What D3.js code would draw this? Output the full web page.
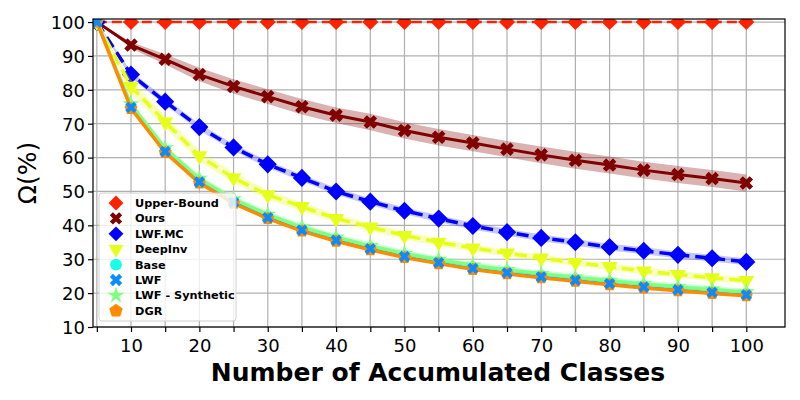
<!DOCTYPE html>
<html>
<head>
<meta charset="utf-8">
<script src="https://cdn.jsdelivr.net/npm/d3@7"></script>
<style>
  body { margin: 0; background: #fff; }
  text { font-family: "DejaVu Sans", sans-serif; }
</style>
</head>
<body>
<div id="chart"></div>
<script>
// data
var classes = [5, 10, 15, 20, 25, 30, 35, 40, 45, 50, 55, 60, 65, 70, 75, 80, 85, 90, 95, 100];

var upperBound = [100, 100, 100, 100, 100, 100, 100, 100, 100, 100, 100, 100, 100, 100, 100, 100, 100, 100, 100, 100];
var ours       = [100, 93.2, 89, 84.5, 81, 78, 75, 72.5, 70.5, 68, 66, 64.3, 62.5, 60.8, 59.2, 57.8, 56.3, 55, 53.8, 52.5];
var oursStd    = [0, 0.9, 1.5, 2, 2.1, 2.2, 2.3, 2.3, 2.4, 2.4, 2.4, 2.4, 2.4, 2.5, 2.5, 2.5, 2.5, 2.5, 2.5, 2.5];
var lwfMC      = [100, 84.5, 76.5, 69, 63, 58, 54, 50, 47, 44.3, 42, 39.8, 38, 36.3, 35, 33.6, 32.5, 31.3, 30.3, 29.2];
var lwfMCStd   = [0, 1, 1, 1, 1, 1, 1, 1, 1, 1, 1, 1, 1, 1, 1, 1, 1, 1, 1, 1];
var deepInv    = [100, 81, 70.5, 60.5, 54, 49, 45.5, 42, 39.5, 37, 35, 33.3, 31.8, 30.3, 29, 27.8, 26.5, 25.5, 24.5, 23.7];
var deepInvStd = [0, 2, 1.8, 1.6, 1.5, 1.4, 1.3, 1.2, 1.2, 1.1, 1.1, 1, 1, 1, 1, 1, 1, 1, 1, 1];
var base       = [100, 75.3, 62.3, 53.3, 47.3, 42.8, 39.1, 36.1, 33.6, 31.3, 29.5, 27.8, 26.5, 25.3, 24.3, 23.3, 22.3, 21.5, 20.7, 20];
var baseStd    = [0, 1, 1, 1, 1, 1, 1, 1, 1, 1, 1, 1, 1, 1, 1, 1, 1, 1, 1, 1];
var lwf        = [100, 74.8, 61.8, 52.8, 46.8, 42.3, 38.6, 35.6, 33.1, 30.8, 29, 27.3, 26, 24.8, 23.8, 22.8, 21.8, 21, 20.2, 19.5];
var lwfSynth   = [100, 75.8, 62.8, 53.8, 47.8, 43.2, 39.5, 36.5, 34, 31.7, 29.9, 28.2, 26.9, 25.7, 24.7, 23.7, 22.7, 21.9, 21.1, 20.3];
var synthStd   = [0, 1, 1, 1, 1, 1, 1, 1, 1, 1, 1, 1, 1, 1, 1, 1, 1, 1, 1, 1];
var dgr        = [100, 74.5, 61.5, 52.5, 46.5, 42, 38.3, 35.3, 32.8, 30.5, 28.7, 27, 25.7, 24.5, 23.5, 22.5, 21.5, 20.7, 19.9, 19.2];

var xTicks = [10, 20, 30, 40, 50, 60, 70, 80, 90, 100];
var xMinor = [5, 15, 25, 35, 45, 55, 65, 75, 85, 95];
var yTicks = [10, 20, 30, 40, 50, 60, 70, 80, 90, 100];

var margin = { left: 93, right: 15, top: 19, bottom: 73 };
var width = 800 - margin.left - margin.right,
    height = 400 - margin.top - margin.bottom;

var svg = d3.select("#chart")
    .append("svg")
        .attr("width", 800)
        .attr("height", 400)
    .append("g")
        .attr("transform", "translate(" + margin.left + "," + margin.top + ")");

var x = d3.scaleLinear().domain([4.44, 105.66]).range([0, width]);
var y = d3.scaleLinear().domain([10, 100.9]).range([height, 0]);

// grid
svg.append("g").selectAll("line")
    .data(xTicks.concat(xMinor))
    .enter().append("line")
        .attr("x1", function(d) { return x(d); })
        .attr("x2", function(d) { return x(d); })
        .attr("y1", 0).attr("y2", height)
        .attr("stroke", "#b0b0b0").attr("stroke-width", 1.2);
svg.append("g").selectAll("line")
    .data(yTicks)
    .enter().append("line")
        .attr("y1", function(d) { return y(d); })
        .attr("y2", function(d) { return y(d); })
        .attr("x1", 0).attr("x2", width)
        .attr("stroke", "#b0b0b0").attr("stroke-width", 1.2);

svg.append("clipPath").attr("id", "clip")
    .append("rect").attr("width", width).attr("height", height);

var plot = svg.append("g").attr("clip-path", "url(#clip)");

var line = d3.line()
    .x(function(d, i) { return x(classes[i]); })
    .y(function(d) { return y(d); });

function band(vals, std, color, op) {
    var area = d3.area()
        .x(function(d, i) { return x(classes[i]); })
        .y0(function(d, i) { return y(d - std[i]); })
        .y1(function(d, i) { return y(d + std[i]); });
    plot.append("path").datum(vals)
        .attr("d", area).attr("fill", color).attr("fill-opacity", op);
}

function pentagon(size) {
    var r = Math.sqrt(size / 2.38);
    var pts = [];
    for (var k = 0; k < 5; k++) {
        var a = -Math.PI / 2 + k * 2 * Math.PI / 5;
        pts.push([r * Math.cos(a), r * Math.sin(a)]);
    }
    return "M" + pts.join("L") + "Z";
}

var markers = {
    diamond: { type: d3.symbolSquare, rot: 45 },
    x: { type: d3.symbolCross, rot: 45 },
    tri: { type: d3.symbolTriangle, rot: 180 },
    circle: { type: d3.symbolCircle, rot: 0 },
    star: { type: d3.symbolStar, rot: 0 }
};

function symPath(m, size) {
    return m === "pent" ? pentagon(size) : d3.symbol().type(markers[m].type).size(size)();
}
function symRot(m) {
    return m === "pent" ? 0 : markers[m].rot;
}

function drawMarkers(vals, m, size, color) {
    plot.append("g").selectAll("path")
        .data(vals)
        .enter().append("path")
            .attr("d", symPath(m, size))
            .attr("transform", function(d, i) {
                return "translate(" + x(classes[i]) + "," + y(d) + ") rotate(" + symRot(m) + ")";
            })
            .attr("fill", color);
}

function series(vals, color, dash, lw) {
    plot.append("path").datum(vals)
        .attr("d", line)
        .attr("fill", "none")
        .attr("stroke", color)
        .attr("stroke-width", lw)
        .attr("stroke-dasharray", dash)
        .attr("stroke-linejoin", "round");
}

// Upper-Bound
series(upperBound, "#ff2200", "10,5", 2.5);
drawMarkers(upperBound, "diamond", 130, "#ff2200");

// Ours
band(ours, oursStd, "#800000", 0.3);
series(ours, "#800000", null, 3);
drawMarkers(ours, "x", 115, "#800000");

// LWF.MC
band(lwfMC, lwfMCStd, "#0000ff", 0.22);
series(lwfMC, "#0000ff", "12,6", 3.5);
drawMarkers(lwfMC, "diamond", 165, "#0000ff");

// DeepInv
band(deepInv, deepInvStd, "#e6ff1a", 0.3);
series(deepInv, "#e6ff1a", "12,6", 3.5);
drawMarkers(deepInv, "tri", 110, "#e6ff1a");

// Base
band(base, baseStd, "#1affe6", 0.3);
series(base, "#1affe6", null, 3);
drawMarkers(base, "circle", 90, "#1affe6");

// LWF-Synthetic
band(lwfSynth, synthStd, "#80ff80", 0.35);
series(lwfSynth, "#80ff80", null, 3);
drawMarkers(lwfSynth, "star", 90, "#80ff80");

// LWF
series(lwf, "#0080ff", null, 1.5);

// DGR
series(dgr, "#ff8c00", null, 3.5);
drawMarkers(dgr, "pent", 110, "#ff8c00");

drawMarkers(lwf, "x", 80, "#0a8cff");

// axes
var xAxisCall = d3.axisBottom(x)
    .tickValues(classes)
    .tickSize(5)
    .tickFormat(function(d) { return d % 10 === 0 ? d : ""; });
svg.append("g")
    .attr("transform", "translate(0," + height + ")")
    .call(xAxisCall)
    .call(function(g) { g.select(".domain").remove(); })
    .selectAll("text")
        .attr("font-size", "18px").attr("fill", "#000").attr("dy", "0.95em");

var yAxisCall = d3.axisLeft(y).tickValues(yTicks).tickSize(5);
svg.append("g")
    .call(yAxisCall)
    .call(function(g) { g.select(".domain").remove(); })
    .selectAll("text")
        .attr("font-size", "18px").attr("fill", "#000").attr("dy", "0.35em");

svg.selectAll(".tick line").attr("stroke", "#000").attr("stroke-width", 1.2);

svg.append("rect")
    .attr("width", width).attr("height", height)
    .attr("fill", "none").attr("stroke", "#000").attr("stroke-width", 1.2);

// labels
svg.append("text")
    .attr("x", width / 2 - 1)
    .attr("y", height + 54)
    .attr("text-anchor", "middle")
    .attr("font-size", "25px")
    .attr("font-weight", "bold")
    .text("Number of Accumulated Classes");

svg.append("text")
    .attr("transform", "translate(-57," + (height / 2) + ") rotate(-90)")
    .attr("text-anchor", "middle")
    .attr("font-size", "25px")
    .text("Ω(%)");

// legend
var legendItems = [
    { name: "Upper-Bound", m: "diamond", size: 110, color: "#ff2200" },
    { name: "Ours", m: "x", size: 95, color: "#800000" },
    { name: "LWF.MC", m: "diamond", size: 110, color: "#0000ff" },
    { name: "DeepInv", m: "tri", size: 95, color: "#e6ff1a" },
    { name: "Base", m: "circle", size: 110, color: "#1affe6" },
    { name: "LWF", m: "x", size: 95, color: "#0a8cff" },
    { name: "LWF - Synthetic", m: "star", size: 90, color: "#80ff80" },
    { name: "DGR", m: "pent", size: 120, color: "#ff8c00" }
];

var legend = svg.append("g").attr("transform", "translate(6,174)");
legend.append("rect")
    .attr("width", 137).attr("height", 128)
    .attr("rx", 3)
    .attr("fill", "#fff").attr("fill-opacity", 0.8)
    .attr("stroke", "#d0d0d0");

var li = legend.selectAll(".li")
    .data(legendItems)
    .enter().append("g")
        .attr("transform", function(d, i) { return "translate(17," + (10 + i * 15.4) + ")"; });
li.append("path")
    .attr("d", function(d) { return symPath(d.m, d.size); })
    .attr("transform", function(d) { return "rotate(" + symRot(d.m) + ")"; })
    .attr("fill", function(d) { return d.color; });
li.append("text")
    .attr("x", 19)
    .attr("dy", "0.35em")
    .attr("font-size", "11.3px")
    .attr("font-weight", "bold")
    .text(function(d) { return d.name; });
</script>
</body>
</html>
